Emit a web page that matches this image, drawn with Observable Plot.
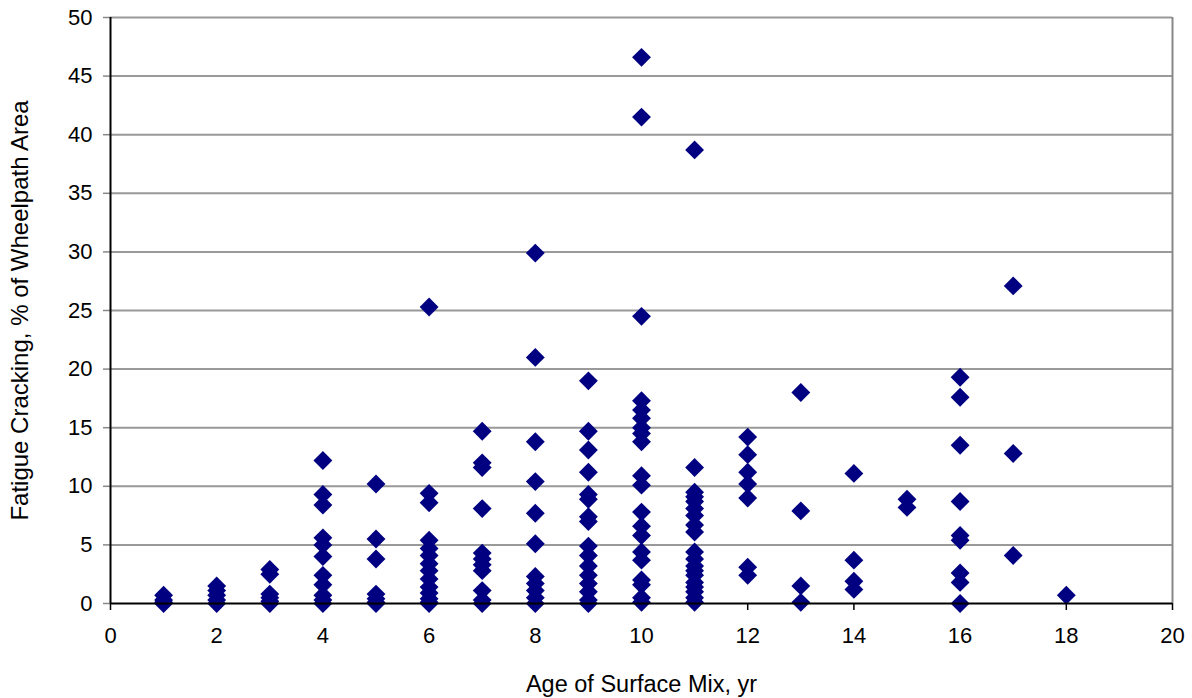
<!DOCTYPE html>
<html>
<head>
<meta charset="utf-8">
<script src="https://cdn.jsdelivr.net/npm/d3@7"></script>
<script src="https://cdn.jsdelivr.net/npm/@observablehq/plot@0.6"></script>
<style>
  html, body { margin: 0; padding: 0; background: #fff; }
  #chart svg { display: block; }
</style>
</head>
<body>
<div id="chart"></div>
<script>
// Age of surface mix (yr) for each column of points
const ages = [1, 2, 3, 4, 5, 6, 7, 8, 9, 10, 11, 12, 13, 14, 15, 16, 17, 18];
// Fatigue cracking (% of wheelpath area), one list per age
const age1  = [0, 0.1, 0.3, 0.7];
const age2  = [0, 0.3, 0.7, 1.1, 1.5];
const age3  = [0, 0.2, 0.5, 0.8, 2.5, 2.9];
const age4  = [12.2, 9.3, 8.4, 5.6, 5.0, 4.0, 2.4, 1.6, 0.7, 0.3, 0];
const age5  = [10.2, 5.5, 3.8, 0.8, 0.4, 0.1, 0];
const age6  = [25.3, 9.4, 8.6, 5.4, 4.7, 4.1, 3.4, 2.8, 2.1, 1.4, 0.9, 0.4, 0.1, 0];
const age7  = [14.7, 12.0, 11.6, 8.1, 4.3, 3.8, 3.3, 2.8, 1.1, 0.3, 0];
const age8  = [29.9, 21.0, 13.8, 10.4, 7.7, 5.1, 2.3, 1.7, 1.1, 0.5, 0];
const age9  = [19.0, 14.7, 13.1, 11.2, 9.3, 8.9, 7.4, 7.0, 4.9, 4.1, 3.2, 2.4, 1.7, 1.0, 0.3, 0];
const age10 = [46.6, 41.5, 24.5, 17.3, 16.5, 15.8, 15.0, 14.5, 13.8, 10.9, 10.1, 7.8, 6.6, 5.8, 4.4, 3.7, 2.0, 1.6, 0.5, 0.1];
const age11 = [38.7, 11.6, 9.5, 9.1, 8.7, 8.1, 7.5, 6.7, 6.1, 4.4, 3.8, 3.2, 2.8, 2.4, 1.8, 1.4, 1.0, 0.5, 0.1];
const age12 = [14.2, 12.7, 11.2, 10.2, 9.0, 3.1, 2.4];
const age13 = [18.0, 7.9, 1.5, 0.1];
const age14 = [11.1, 3.7, 1.9, 1.2];
const age15 = [8.9, 8.2];
const age16 = [19.3, 17.6, 13.5, 8.7, 5.8, 5.4, 2.6, 1.8, 0];
const age17 = [27.1, 12.8, 4.1];
const age18 = [0.7];
const cracking = [age1, age2, age3, age4, age5, age6, age7, age8, age9, age10,
                  age11, age12, age13, age14, age15, age16, age17, age18];

const xTicks = [0, 2, 4, 6, 8, 10, 12, 14, 16, 18, 20];
const yTicks = [0, 5, 10, 15, 20, 25, 30, 35, 40, 45, 50];
const gridValues = [5, 10, 15, 20, 25, 30, 35, 40, 45, 50];

const points = [];
ages.forEach((a, i) => cracking[i].forEach(v => points.push({age: a, crack: v})));

const chart = Plot.plot({
  width: 1192,
  height: 698,
  marginLeft: 110,
  marginRight: 20,
  marginTop: 17,
  marginBottom: 95,
  style: {fontFamily: "'Liberation Sans', Arial, sans-serif", fontSize: "22px", color: "#000", background: "#fff"},
  x: {domain: [0, 20]},
  y: {domain: [0, 50]},
  marks: [
    Plot.ruleY(gridValues, {stroke: "#999999", strokeWidth: 2}),
    Plot.ruleX([20], {stroke: "#888888", strokeWidth: 2}),
    Plot.axisY({ticks: yTicks, tickSize: 7, tickPadding: 11, stroke: "#888", strokeWidth: 1.5,
      fontSize: 22, label: null}),
    Plot.axisX({ticks: xTicks, tickSize: 7, tickPadding: 17, strokeWidth: 1.5,
      fontSize: 22, label: null}),
    Plot.text(["Fatigue Cracking, % of Wheelpath Area"], {frameAnchor: "left", dx: -90, rotate: -90,
      fontSize: 24, textAnchor: "middle", fill: "#000"}),
    Plot.text(["Age of Surface Mix, yr"], {frameAnchor: "bottom", dy: 81,
      fontSize: 23.5, textAnchor: "middle", fill: "#000"}),
    Plot.dot(points, {x: "age", y: "crack", symbol: "diamond2", r: 8.5,
      fill: "#000080", stroke: "none"}),
    Plot.ruleX([0], {stroke: "#000", strokeWidth: 2}),
    Plot.ruleY([0], {stroke: "#000", strokeWidth: 2})
  ]
});
// nudge x-axis title down to match reference baseline
chart.querySelectorAll("text").forEach(t => {
  if (t.textContent === "Age of Surface Mix, yr") t.setAttribute("transform", (t.getAttribute("transform") || "") + " translate(0,7)");
});
document.getElementById("chart").appendChild(chart);
</script>
</body>
</html>
